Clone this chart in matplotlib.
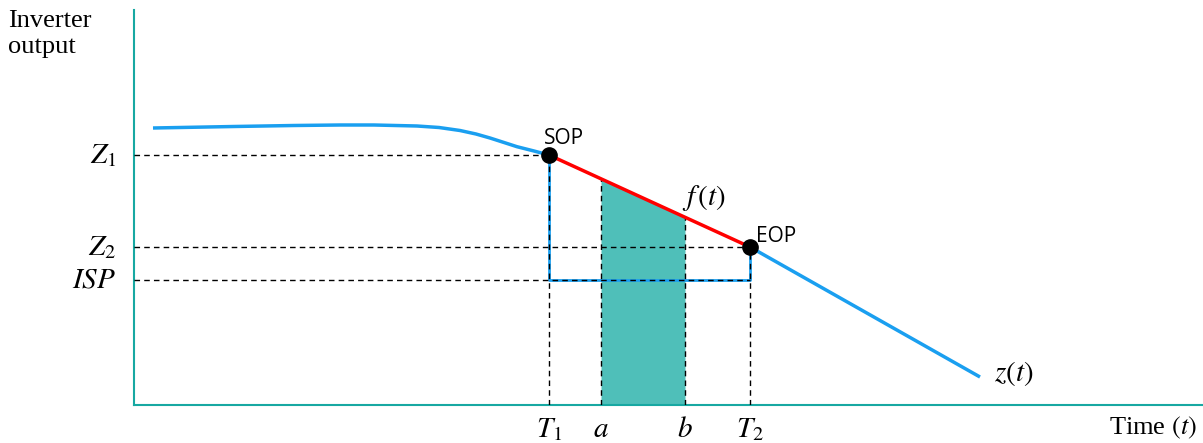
import numpy as np
import matplotlib.pyplot as plt

plt.rcParams['mathtext.fontset'] = 'stix'

# curve z(t) (x: time, y: inverter output)
z_before_x = [19, 100, 160, 206, 240, 283, 305, 326, 342, 356, 370, 383, 400, 415]
z_before_y = [277, 278.5, 279.5, 280, 280, 279, 277.5, 274.5, 271, 267, 262.5, 258.3, 254, 250]
z_after_x = [616, 846]
z_after_y = [158, 28]

T1, T2 = 415, 616
a, b = 467, 551
Z1, Z2, ISP = 250, 158, 125

x_ticks = [T1, a, b, T2]
x_tick_labels = [r'$T_1$', r'$a$', r'$b$', r'$T_2$']
y_ticks = [Z1, Z2, ISP]
y_tick_labels = [r'$Z_1$', r'$Z_2$', r'$ISP$']

blue = '#1a9ff0'
teal = '#17a8a2'
fill_col = '#4fbfb9'

fig = plt.figure(figsize=(12.03, 4.43), dpi=100)
ax = fig.add_axes([134 / 1203, 38 / 443, 1069 / 1203, 395 / 443])
ax.set_xlim(0, 1069)
ax.set_ylim(0, 395)

for s in ['top', 'right']:
    ax.spines[s].set_visible(False)
for s in ['left', 'bottom']:
    ax.spines[s].set_color(teal)
    ax.spines[s].set_linewidth(1.5)
ax.set_xticks([])
ax.set_yticks([])

# shaded area under f(t) between a and b
fx = np.array([a, b])
fy = np.interp(fx, [T1, T2], [Z1, Z2])
ax.fill_between(fx, 0, fy, color=fill_col, lw=0, zorder=1)

# blue step (ISP box)
ax.plot([T1, T1, T2, T2], [Z1, ISP, ISP, Z2], color=blue, lw=2, zorder=2)

# dashed guides
dash = dict(color='black', lw=1, ls=(0, (4, 3)), zorder=3)
for xv, yv in zip(x_ticks, [Z1, fy[0], fy[1], Z2]):
    ax.plot([xv, xv], [0, yv], **dash)
ax.plot([0, T1], [Z1, Z1], **dash)
ax.plot([0, T2], [Z2, Z2], **dash)
ax.plot([0, T2], [ISP, ISP], **dash)

# z(t) and f(t)
ax.plot(z_before_x, z_before_y, color=blue, lw=2.5, zorder=4, solid_capstyle='butt')
ax.plot(z_after_x, z_after_y, color=blue, lw=2.5, zorder=4, solid_capstyle='butt')
ax.plot([T1, T2], [Z1, Z2], color='red', lw=2.5, zorder=5)
ax.plot([T1, T2], [Z1, Z2], 'o', color='black', ms=11, zorder=6)

ax.text(T1 - 5, Z1 + 6, 'SOP', family='Open Sans', fontsize=15, ha='left', va='bottom')
ax.text(T2 + 6, Z2 + 0, 'EOP', family='Open Sans', fontsize=15, ha='left', va='bottom')
ax.text(548, 207, r'$f\,(t)$', fontsize=21, ha='left', va='center')
ax.text(860, 32, r'$z(t)$', fontsize=21, ha='left', va='center')

for xv, lab in zip(x_ticks, x_tick_labels):
    ax.text(xv, -24, lab, fontsize=21, ha='center', va='center')
for yv, lab in zip(y_ticks, y_tick_labels):
    ax.text(-18, yv, lab, fontsize=21, ha='right', va='center')

fig.text(8 / 1203, 1 - 10 / 443, 'Inverter\noutput', family='Liberation Serif',
         fontsize=19, ha='left', va='top', linespacing=1.25)
fig.text(1197 / 1203, 1 - 428 / 443, r'Time $(t)$', family='Liberation Serif',
         fontsize=19, ha='right', va='center')

fig.savefig('out.png', dpi=100)
